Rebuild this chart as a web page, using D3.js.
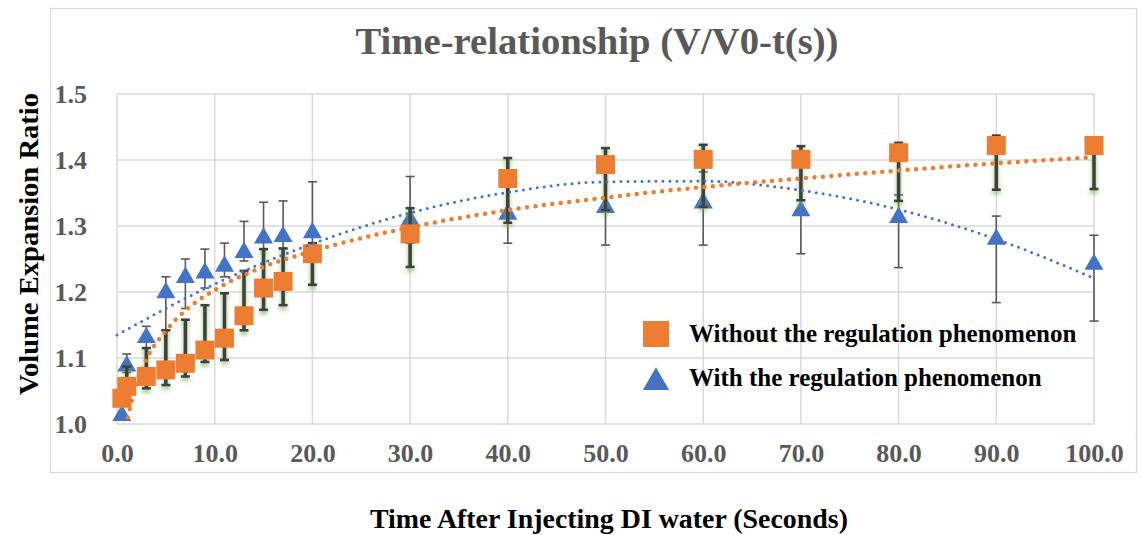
<!DOCTYPE html>
<html>
<head>
<meta charset="utf-8">
<script src="https://cdn.jsdelivr.net/npm/d3@7"></script>
<style>
  body { margin: 0; background: #ffffff; }
  svg text { font-family: "Liberation Serif", "Times New Roman", serif; font-weight: bold; }
</style>
</head>
<body>
<div id="chart"></div>
<script>
/* global d3 */

// sample times (seconds)
var times = [0.5, 1, 3, 5, 7, 9, 11, 13, 15, 17, 20, 30, 40, 50, 60, 70, 80, 90, 100];

// "Without the regulation phenomenon"
var withoutValues = [1.039, 1.057, 1.072, 1.082, 1.092, 1.112, 1.130, 1.164, 1.206, 1.216, 1.258, 1.288, 1.372, 1.393, 1.401, 1.401, 1.411, 1.422, 1.422];
var withoutErrPlus = [0.008, 0.030, 0.043, 0.060, 0.066, 0.068, 0.068, 0.068, 0.059, 0.050, 0.016, 0.039, 0.031, 0.025, 0.022, 0.020, 0.015, 0.015, 0.000];
var withoutErrMinus = [0.008, 0.010, 0.018, 0.023, 0.020, 0.018, 0.033, 0.022, 0.033, 0.036, 0.047, 0.050, 0.067, 0.069, 0.072, 0.062, 0.073, 0.067, 0.066];

// "With the regulation phenomenon"
var withValues = [1.017, 1.092, 1.135, 1.203, 1.226, 1.233, 1.243, 1.264, 1.286, 1.288, 1.294, 1.313, 1.322, 1.332, 1.339, 1.327, 1.317, 1.284, 1.246];
var withErrPlus = [0, 0.014, 0.013, 0.020, 0.024, 0.032, 0.031, 0.043, 0.050, 0.050, 0.073, 0.062, 0.048, 0.061, 0.043, 0.069, 0.030, 0.031, 0.040];
var withErrMinus = [0, 0.014, 0.020, 0.061, 0.051, 0.027, 0.020, 0.017, 0.021, 0.022, 0.020, 0.039, 0.048, 0.061, 0.068, 0.069, 0.080, 0.100, 0.090];

// dotted trend lines
var withoutTrendT = [1.1, 2, 3, 5, 7, 10, 15, 20, 30, 40, 50, 60, 70, 80, 90, 100];
var withoutTrendV = [1.010, 1.062, 1.098, 1.141, 1.172, 1.203, 1.238, 1.262, 1.298, 1.324, 1.343, 1.359, 1.372, 1.384, 1.395, 1.404];
var withTrendT = [0, 10, 20, 30, 40, 50, 60, 70, 80, 90, 100];
var withTrendV = [1.135, 1.212, 1.273, 1.320, 1.351, 1.367, 1.368, 1.354, 1.325, 1.280, 1.221];

var xTicks = [0, 10, 20, 30, 40, 50, 60, 70, 80, 90, 100];
var yTicks = [1.0, 1.1, 1.2, 1.3, 1.4, 1.5];

var legendLabels = ["Without the regulation phenomenon", "With the regulation phenomenon"];

var ORANGE = "#ED7D31";
var BLUE = "#4472C4";
var GRID = "#D9D9D9";
var AXIS_TEXT = "#595959";

var width = 1141;
var height = 535;

var svg = d3
  .select("#chart")
  .append("svg")
  .attr("width", width)
  .attr("height", height);

var x = d3.scaleLinear().domain([0, 100]).range([117, 1094]);
var y = d3.scaleLinear().domain([1.0, 1.5]).range([424, 94]);

// green glow under the thick error bars
var defs = svg.append("defs");
var glow = defs
  .append("filter")
  .attr("id", "glow")
  .attr("filterUnits", "userSpaceOnUse")
  .attr("x", 0)
  .attr("y", 0)
  .attr("width", width)
  .attr("height", height);
glow.append("feFlood").attr("flood-color", "#70AD47").attr("flood-opacity", 0.75).attr("result", "c");
glow.append("feComposite").attr("in", "c").attr("in2", "SourceAlpha").attr("operator", "in").attr("result", "s");
glow.append("feGaussianBlur").attr("in", "s").attr("stdDeviation", 2.2).attr("result", "b");
glow.append("feOffset").attr("in", "b").attr("dy", 3).attr("result", "o");
var merge = glow.append("feMerge");
merge.append("feMergeNode").attr("in", "o");
merge.append("feMergeNode").attr("in", "SourceGraphic");

// chart frame
svg
  .append("rect")
  .attr("x", 50.5)
  .attr("y", 8.5)
  .attr("width", 1086)
  .attr("height", 464)
  .attr("fill", "none")
  .attr("stroke", GRID)
  .attr("stroke-width", 1.2);

// title
svg
  .append("text")
  .text("Time-relationship (V/V0-t(s))")
  .attr("x", 597)
  .attr("y", 54)
  .attr("text-anchor", "middle")
  .attr("font-size", 38)
  .attr("textLength", 483)
  .attr("lengthAdjust", "spacingAndGlyphs")
  .attr("fill", AXIS_TEXT);

// gridlines
svg
  .append("g")
  .selectAll("line")
  .data(yTicks)
  .enter()
  .append("line")
  .attr("x1", x(0))
  .attr("x2", x(100))
  .attr("y1", function(d) { return y(d); })
  .attr("y2", function(d) { return y(d); })
  .attr("stroke", GRID)
  .attr("stroke-width", 1.5);

svg
  .append("g")
  .selectAll("line")
  .data(xTicks)
  .enter()
  .append("line")
  .attr("x1", function(d) { return x(d); })
  .attr("x2", function(d) { return x(d); })
  .attr("y1", y(1.5))
  .attr("y2", y(1.0))
  .attr("stroke", GRID)
  .attr("stroke-width", 1.5);

// axes
var yAxis = svg
  .append("g")
  .attr("transform", "translate(" + x(0) + ",0)")
  .call(d3.axisLeft(y).tickValues(yTicks).tickFormat(d3.format(".1f")).tickSize(0).tickPadding(30));
var xAxis = svg
  .append("g")
  .attr("transform", "translate(0," + y(1.0) + ")")
  .call(d3.axisBottom(x).tickValues(xTicks).tickFormat(d3.format(".1f")).tickSize(0).tickPadding(20));

[yAxis, xAxis].forEach(function(a) {
  a.select(".domain").remove();
  a.selectAll("text")
    .attr("fill", AXIS_TEXT)
    .style("font-family", "'Liberation Serif', serif")
    .style("font-weight", "bold")
    .style("font-size", "26px");
});

svg
  .append("text")
  .text("Volume Expansion Ratio")
  .attr("transform", "translate(38,244) rotate(-90)")
  .attr("text-anchor", "middle")
  .attr("font-size", 27)
  .attr("textLength", 302)
  .attr("lengthAdjust", "spacingAndGlyphs")
  .attr("fill", "#000000");

svg
  .append("text")
  .text("Time After Injecting DI water (Seconds)")
  .attr("x", 609)
  .attr("y", 528)
  .attr("text-anchor", "middle")
  .attr("font-size", 27)
  .attr("textLength", 478)
  .attr("lengthAdjust", "spacingAndGlyphs")
  .attr("fill", "#000000");

var drawErrorBars = function(values, plus, minus, opts) {
  var g = svg.append("g");
  if (opts.glow) {
    g.attr("filter", "url(#glow)");
  }
  times.forEach(function(t, i) {
    if (plus[i] === 0 && minus[i] === 0) {
      return;
    }
    var top = y(values[i] + plus[i]);
    var bottom = y(values[i] - minus[i]);
    g.append("line")
      .attr("x1", x(t))
      .attr("x2", x(t))
      .attr("y1", top)
      .attr("y2", bottom)
      .attr("stroke", opts.color)
      .attr("stroke-width", opts.width);
    [top, bottom].forEach(function(yy) {
      g.append("line")
        .attr("x1", x(t) - opts.cap)
        .attr("x2", x(t) + opts.cap)
        .attr("y1", yy)
        .attr("y2", yy)
        .attr("stroke", opts.color)
        .attr("stroke-width", opts.capWidth);
    });
  });
};

var triangle = d3.symbol().type(d3.symbolTriangle).size(156);
var square = d3.symbol().type(d3.symbolSquare).size(361);

// blue series first, orange series on top
drawErrorBars(withValues, withErrPlus, withErrMinus, { color: "#595959", width: 1.6, cap: 4.5, capWidth: 1.6 });

svg
  .append("g")
  .selectAll("path")
  .data(withValues)
  .enter()
  .append("path")
  .attr("d", triangle)
  .attr("transform", function(d, i) { return "translate(" + x(times[i]) + "," + (y(d) + 2.7) + ")"; })
  .attr("fill", BLUE);

drawErrorBars(withoutValues, withoutErrPlus, withoutErrMinus, { color: "#404040", width: 3.6, cap: 4.5, capWidth: 2.6, glow: true });

svg
  .append("g")
  .selectAll("path")
  .data(withoutValues)
  .enter()
  .append("path")
  .attr("d", square)
  .attr("transform", function(d, i) { return "translate(" + x(times[i]) + "," + y(d) + ")"; })
  .attr("fill", ORANGE);

// trend lines
var trendLine = function(ts) {
  return d3
    .line()
    .x(function(d, i) { return x(ts[i]); })
    .y(function(d) { return y(d); })
    .curve(d3.curveMonotoneX);
};

svg
  .append("path")
  .attr("d", trendLine(withTrendT)(withTrendV))
  .attr("fill", "none")
  .attr("stroke", BLUE)
  .attr("stroke-width", 3)
  .attr("stroke-linecap", "round")
  .attr("stroke-dasharray", "0 7");

svg
  .append("path")
  .attr("d", trendLine(withoutTrendT)(withoutTrendV))
  .attr("fill", "none")
  .attr("stroke", ORANGE)
  .attr("stroke-width", 4.5)
  .attr("stroke-linecap", "round")
  .attr("stroke-dasharray", "0 8.5");

// legend
var legend = svg.append("g").attr("transform", "translate(656,0)");
legend
  .append("path")
  .attr("d", d3.symbol().type(d3.symbolSquare).size(676))
  .attr("transform", "translate(0,334)")
  .attr("fill", ORANGE);
legend
  .append("path")
  .attr("d", d3.symbol().type(d3.symbolTriangle).size(300))
  .attr("transform", "translate(0,382.5)")
  .attr("fill", BLUE);
legend
  .selectAll("text")
  .data(legendLabels)
  .enter()
  .append("text")
  .text(function(d) { return d; })
  .attr("x", 33)
  .attr("y", function(d, i) { return 342 + i * 44; })
  .attr("font-size", 25)
  .attr("fill", "#000000");
</script>
</body>
</html>
